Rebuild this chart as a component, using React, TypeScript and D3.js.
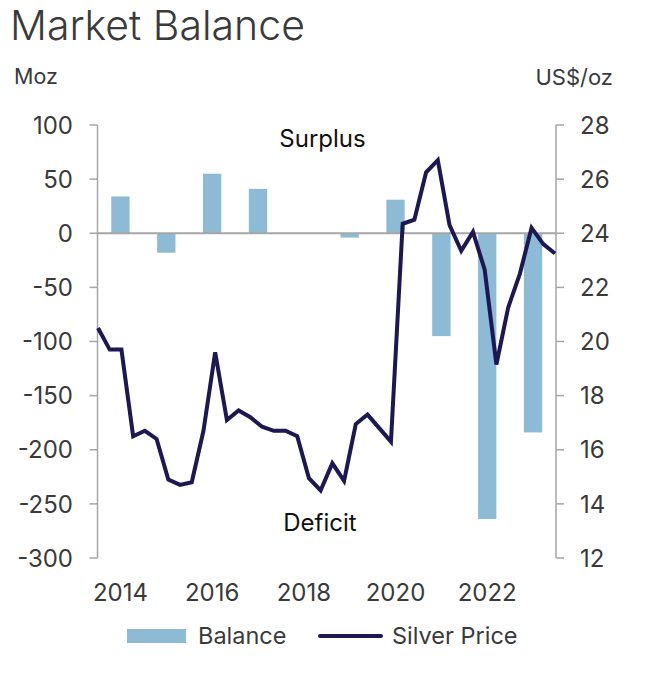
import React from "react";
import * as d3 from "d3";

const years = [2014, 2015, 2016, 2017, 2018, 2019, 2020, 2021, 2022, 2023];
const balance = [34, -18, 55, 41, 0, -4, 31, -95, -264, -184];
const yearTicks = [2014, 2016, 2018, 2020, 2022];

const quarters: string[] = [];
years.forEach((y) => [1, 2, 3, 4].forEach((q) => quarters.push(`${y}Q${q}`)));
const silverPrice = [
  20.5, 19.7, 19.7, 16.5, 16.7, 16.4, 14.9, 14.7, 14.8, 16.7,
  19.6, 17.1, 17.45, 17.2, 16.85, 16.7, 16.7, 16.5, 14.95, 14.5,
  15.5, 14.85, 16.95, 17.3, 16.8, 16.3, 24.35, 24.5, 26.25, 26.7,
  24.3, 23.35, 24.05, 22.65, 19.15, 21.25, 22.5, 24.2, 23.6, 23.25,
];
const leftTicks = [100, 50, 0, -50, -100, -150, -200, -250, -300];
const rightTicks = [28, 26, 24, 22, 20, 18, 16, 14, 12];

const W = 664;
const H = 680;
const X0 = 97.5;
const X1 = 556;
const YT = 125;
const YB = 558;
const FONT = "Inter, 'Open Sans', 'Liberation Sans', sans-serif";
const AXIS = "#a6a6a6";
const TXT = "#3a3a3a";
const BAR = "#8dbbd5";
const LINE = "#1d1753";

export default function App() {
  const yL = d3.scaleLinear().domain([-300, 100]).range([YB, YT]);
  const yR = d3.scaleLinear().domain([12, 28]).range([YB, YT]);
  const xBand = d3
    .scaleBand<number>()
    .domain(years)
    .range([X0, X1])
    .paddingInner(0.6)
    .paddingOuter(0.3);
  const xPt = d3.scalePoint<string>().domain(quarters).range([98, 555]);
  const lineGen = d3
    .line<number>()
    .x((_, i) => xPt(quarters[i]) as number)
    .y((d) => yR(d))
    .curve(d3.curveLinear);

  return (
    <svg
      width={W}
      height={H}
      style={{ position: "absolute", left: 0, top: 0, background: "#fff" }}
      fontFamily={FONT}
    >
      <text x={10} y={40} fontSize={41} fontWeight={300} fill={TXT}>
        Market Balance
      </text>
      <text x={14} y={84} fontSize={21.5} fill={TXT}>
        Moz
      </text>
      <text x={613} y={85} fontSize={22} fill={TXT} textAnchor="end">
        US$/oz
      </text>

      {/* bars */}
      {years.map((y, i) => {
        const v = balance[i];
        const top = Math.min(yL(v), yL(0));
        const h = Math.abs(yL(v) - yL(0));
        return (
          <rect
            key={y}
            x={xBand(y)}
            y={top}
            width={xBand.bandwidth()}
            height={h}
            fill={BAR}
          />
        );
      })}

      {/* left axis */}
      <line x1={X0} x2={X0} y1={YT} y2={YB} stroke={AXIS} strokeWidth={1.5} />
      {leftTicks.map((t) => (
        <g key={t}>
          <line x1={X0 - 8} x2={X0} y1={yL(t)} y2={yL(t)} stroke={AXIS} strokeWidth={1.5} />
          <text
            x={73}
            y={yL(t)}
            dy="0.36em"
            fontSize={24}
            fill={TXT}
            textAnchor="end"
          >
            {t}
          </text>
        </g>
      ))}

      {/* right axis */}
      <line x1={X1} x2={X1} y1={YT} y2={YB} stroke={AXIS} strokeWidth={1.5} />
      {rightTicks.map((t) => (
        <g key={t}>
          <line x1={X1} x2={X1 + 8} y1={yR(t)} y2={yR(t)} stroke={AXIS} strokeWidth={1.5} />
          <text x={580} y={yR(t)} dy="0.36em" fontSize={24} fill={TXT}>
            {t}
          </text>
        </g>
      ))}

      {/* zero line */}
      <line x1={X0} x2={X1} y1={yL(0)} y2={yL(0)} stroke={AXIS} strokeWidth={2} />

      {/* x labels */}
      {yearTicks.map((y) => (
        <text
          key={y}
          x={(xBand(y) as number) + xBand.bandwidth() / 2}
          y={601}
          fontSize={24}
          fill={TXT}
          textAnchor="middle"
        >
          {y}
        </text>
      ))}

      {/* price line */}
      <path
        d={lineGen(silverPrice) || ""}
        fill="none"
        stroke={LINE}
        strokeWidth={4}
        strokeLinejoin="miter"
      />

      <text x={322.5} y={147} fontSize={24} fill="#111" textAnchor="middle">
        Surplus
      </text>
      <text x={320} y={531} fontSize={24} fill="#111" textAnchor="middle">
        Deficit
      </text>

      {/* legend */}
      <rect x={127} y={629} width={59} height={14} fill={BAR} />
      <text x={198} y={644} fontSize={23.5} fill={TXT}>
        Balance
      </text>
      <line
        x1={320}
        x2={381}
        y1={636}
        y2={636}
        stroke={LINE}
        strokeWidth={4}
        strokeLinecap="round"
      />
      <text x={392} y={644} fontSize={23.5} fill={TXT}>
        Silver Price
      </text>
    </svg>
  );
}
